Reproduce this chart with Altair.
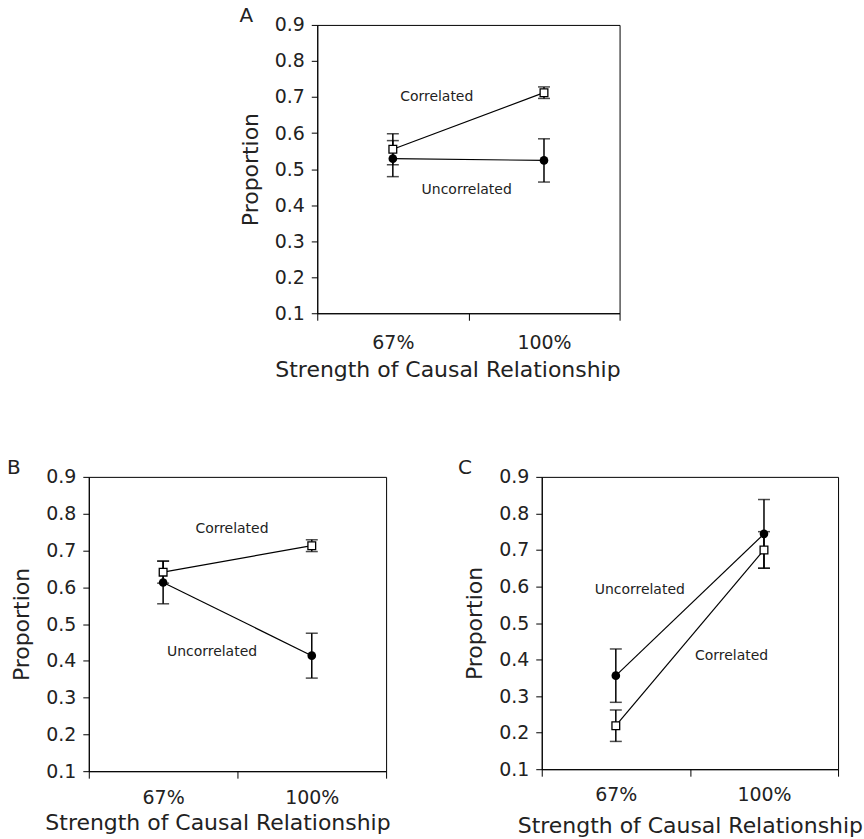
import altair as alt
import pandas as pd

levels = ["67%", "100%"]
y_ticks = [0.1, 0.2, 0.3, 0.4, 0.5, 0.6, 0.7, 0.8, 0.9]

# Panel A
a_corr = [0.555, 0.712]
a_corr_err = [0.043, 0.016]
a_unc = [0.529, 0.524]
a_unc_err = [0.050, 0.060]
# Panel B
b_corr = [0.641, 0.713]
b_corr_err = [0.030, 0.016]
b_unc = [0.613, 0.414]
b_unc_err = [0.058, 0.061]
# Panel C
c_corr = [0.219, 0.700]
c_corr_err = [0.043, 0.050]
c_unc = [0.356, 0.744]
c_unc_err = [0.073, 0.094]

# series labels: (text, anchor level, y value)
a_labels = [("Correlated", "67%", 0.700), ("Uncorrelated", "67%", 0.443)]
b_labels = [("Correlated", "67%", 0.759), ("Uncorrelated", "67%", 0.423)]
c_labels = [("Uncorrelated", "67%", 0.591), ("Correlated", "67%", 0.409)]

FONT = "DejaVu Sans"
TXT = "#222222"


def make_df(corr, corr_err, unc, unc_err):
    rows = []
    for i, lv in enumerate(levels):
        rows.append(dict(level=lv, series="Uncorrelated", value=unc[i],
                         lo=unc[i] - unc_err[i], hi=unc[i] + unc_err[i]))
        rows.append(dict(level=lv, series="Correlated", value=corr[i],
                         lo=corr[i] - corr_err[i], hi=corr[i] + corr_err[i]))
    return pd.DataFrame(rows)


def panel(letter, corr, corr_err, unc, unc_err, labels, label_dx, w, h,
          xlab_pad, xtitle_pad, xtitle_shift, title_dx):
    df = make_df(corr, corr_err, unc, unc_err)
    xscale = alt.Scale(type="band", domain=levels, paddingInner=0, paddingOuter=0)
    xaxis = alt.Axis(title="Strength of Causal Relationship", labelAngle=0,
                     tickBand="extent", tickSize=7, labelPadding=xlab_pad,
                     titlePadding=xtitle_pad, labelOverlap=False,
                     titleX=w / 2 + xtitle_shift)
    yscale = alt.Scale(domain=[0.1, 0.9], nice=False, zero=False)
    yaxis = alt.Axis(title="Proportion", values=y_ticks, format=".1f",
                     tickSize=6, labelPadding=7, titlePadding=12,
                     labelOverlap=False)
    x = alt.X("level:N", sort=levels, scale=xscale, axis=xaxis)

    def Y(field):
        return alt.Y(field, scale=yscale, axis=yaxis)

    base = alt.Chart(df).encode(x=x)
    lines = base.mark_line(color="black", strokeWidth=1.2).encode(
        y=Y("value:Q"), detail="series:N")
    rules = base.mark_rule(color="black", strokeWidth=1.5).encode(y=Y("lo:Q"), y2="hi:Q")
    cap_lo = base.mark_tick(color="black", size=12, thickness=1.5,
                            orient="horizontal").encode(y=Y("lo:Q"))
    cap_hi = base.mark_tick(color="black", size=12, thickness=1.5,
                            orient="horizontal").encode(y=Y("hi:Q"))
    circles = base.transform_filter(alt.datum.series == "Uncorrelated").mark_point(
        shape="circle", filled=True, color="black", size=75, opacity=1).encode(y=Y("value:Q"))
    squares = base.transform_filter(alt.datum.series == "Correlated").mark_point(
        shape="square", filled=True, fill="white", stroke="black", strokeWidth=1.3,
        size=60, opacity=1).encode(y=Y("value:Q"))
    layers = [lines, rules, cap_lo, cap_hi, circles, squares]
    for (txt, lv, val), dx in zip(labels, label_dx):
        ldf = pd.DataFrame({"level": [lv], "value": [val], "text": [txt]})
        layers.append(
            alt.Chart(ldf).mark_text(dx=dx, fontSize=14, font=FONT, color=TXT,
                                     align="center", baseline="middle").encode(
                x=alt.X("level:N", sort=levels, scale=xscale, axis=xaxis),
                y=Y("value:Q"),
                text="text:N"))
    return alt.layer(*layers).properties(
        width=w, height=h,
        title=alt.TitleParams(text=letter, anchor="start", frame="group", fontSize=20,
                              font=FONT, fontWeight="normal", color=TXT,
                              baseline="alphabetic", dx=title_dx, offset=-26))


A = panel("A", a_corr, a_corr_err, a_unc, a_unc_err, a_labels, [44, 74], 303, 289,
          13, 7, -21, -78)
B = panel("B", b_corr, b_corr_err, b_unc, b_unc_err, b_labels, [69, 49], 298, 295,
          10, 5, -20, -82)
C = panel("C", c_corr, c_corr_err, c_unc, c_unc_err, c_labels, [24, 116], 297, 293,
          9, 11, 0, -84)

spacer = alt.Chart(pd.DataFrame({"s": [0]})).mark_point(opacity=0).encode(
    x=alt.X("s:Q", axis=None), y=alt.Y("s:Q", axis=None)).properties(
    width=150, height=10, view=alt.ViewBackground(strokeOpacity=0))

top = alt.hconcat(spacer, A, spacing=0)
bottom = alt.hconcat(B, C, spacing=66)

chart = alt.vconcat(top, bottom, spacing=76).properties(
    padding={"left": 6, "top": 4, "right": 0, "bottom": 0}
).configure_view(stroke="black", strokeWidth=1).configure_axis(
    labelFont=FONT, titleFont=FONT, labelFontSize=19, titleFontSize=22,
    labelColor=TXT, titleColor=TXT, titleFontWeight="normal",
    domainColor="black", tickColor="black", domainWidth=1, tickWidth=1, grid=False
)

chart.save("out.html", embed_options={"renderer": "svg", "actions": False})
